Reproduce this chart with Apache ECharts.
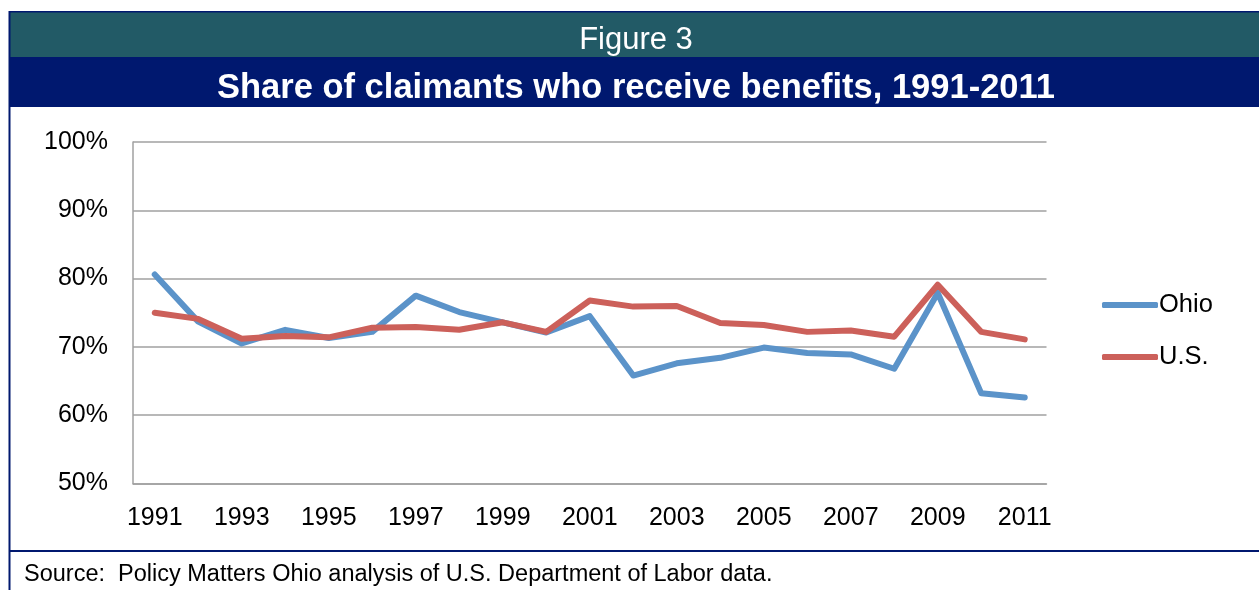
<!DOCTYPE html>
<html>
<head>
<meta charset="utf-8">
<script src="https://cdn.jsdelivr.net/npm/echarts@6/dist/echarts.min.js"></script>
<style>
html,body{margin:0;padding:0;background:#fff;}
#c{width:1259px;height:590px;}
</style>
</head>
<body>
<div id="c"></div>
<script>
var years = ['1991','1992','1993','1994','1995','1996','1997','1998','1999','2000','2001','2002','2003','2004','2005','2006','2007','2008','2009','2010','2011'];
var ohio = [80.6,73.7,70.5,72.5,71.3,72.2,77.5,75.1,73.6,72.1,74.5,65.8,67.6,68.4,69.9,69.1,68.9,66.8,77.9,63.2,62.6];
var us = [75.0,74.1,71.2,71.6,71.4,72.8,72.9,72.5,73.6,72.2,76.8,75.9,76.0,73.5,73.2,72.2,72.4,71.5,79.1,72.2,71.1];
var yTicks = [50,60,70,80,90,100];

var chart = echarts.init(document.getElementById('c'), null, {renderer:'canvas'});
var font = 'Liberation Sans, Arial, sans-serif';
chart.setOption({
  animation:false,
  backgroundColor:'#ffffff',
  graphic:[
    {type:'rect', shape:{x:9,y:11,width:1260,height:46}, style:{fill:'#225a66'}},
    {type:'rect', shape:{x:9,y:57,width:1260,height:50}, style:{fill:'#00186f'}},
    {type:'rect', shape:{x:9,y:11,width:1260,height:1.5}, style:{fill:'#00186f'}},
    {type:'rect', shape:{x:8.5,y:11,width:2,height:590}, style:{fill:'#00186f'}},
    {type:'rect', shape:{x:9,y:550,width:1260,height:2}, style:{fill:'#00186f'}},
    {type:'text', x:636, y:40, style:{text:'Figure 3', fill:'#ffffff', font:'31px '+font, align:'center', verticalAlign:'middle'}},
    {type:'text', x:636, y:88, style:{text:'Share of claimants who receive benefits, 1991-2011', fill:'#ffffff', font:'bold 34.5px '+font, align:'center', verticalAlign:'middle'}},
    {type:'text', x:24, y:575, style:{text:'Source:  Policy Matters Ohio analysis of U.S. Department of Labor data.', fill:'#000000', font:'23.5px '+font, align:'left', verticalAlign:'middle'}}
  ],
  legend:{
    orient:'vertical', left:1097, top:287, itemWidth:56, itemHeight:6, itemGap:26,
    textStyle:{fontFamily:font, fontSize:25.5, color:'#000', padding:[0,0,0,-4]},
    data:[{name:'Ohio', icon:'roundRect'},{name:'U.S.', icon:'roundRect'}]
  },
  grid:{left:133, top:142, width:913.5, height:341.5, containLabel:false},
  xAxis:{
    type:'category', data:years, boundaryGap:true,
    axisLine:{lineStyle:{color:'#a0a0a0', width:1.5}},
    axisTick:{show:false},
    axisLabel:{interval:1, fontFamily:font, fontSize:25, color:'#000', margin:22}
  },
  yAxis:{
    type:'value', min:50, max:100, interval:10,
    axisLine:{show:true, lineStyle:{color:'#a0a0a0', width:1.5}},
    axisTick:{show:false},
    splitLine:{lineStyle:{color:'#a0a0a0', width:1.5}},
    axisLabel:{formatter:function(v){return yTicks.indexOf(v)>=0 ? v+'%' : '';}, fontFamily:font, fontSize:25, color:'#000', margin:25, padding:[5,0,0,0]}
  },
  series:[
    {name:'Ohio', type:'line', data:ohio, symbol:'none', lineStyle:{width:6, color:'#5b93c9', cap:'round', join:'round'}, itemStyle:{color:'#5b93c9'}},
    {name:'U.S.', type:'line', data:us, symbol:'none', lineStyle:{width:6, color:'#cc605a', cap:'round', join:'round'}, itemStyle:{color:'#cc605a'}}
  ]
});
</script>
</body>
</html>
